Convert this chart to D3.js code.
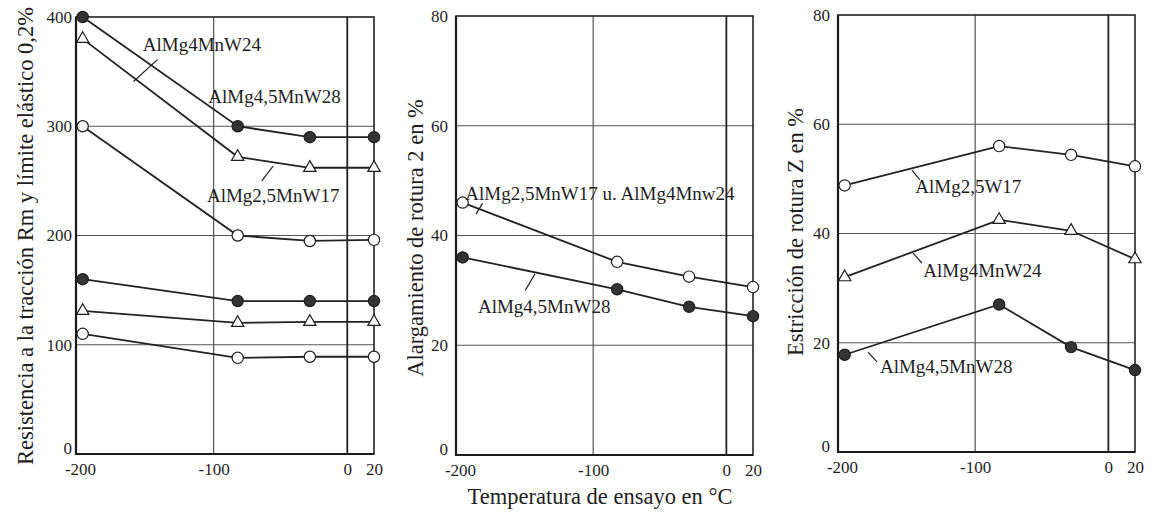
<!DOCTYPE html>
<html>
<head>
<meta charset="utf-8">
<script src="https://cdn.jsdelivr.net/npm/d3@7"></script>
<style>
  body { margin: 0; background: #fff; }
  svg { display: block; }
  text { font-family: "Liberation Serif", "Times New Roman", serif; fill: #1e1e1e; }
  .tick text { font-size: 17px; }
  .label { font-size: 19px; }
  .title { font-size: 22.5px; }
</style>
</head>
<body>
<div id="chart"></div>
<script>
// test temperatures (°C)
var temps = [-198, -82, -28, 20];
var xTicks = [-200, -100, 0, 20];

// panel 1: tensile strength Rm (upper) and 0.2% yield (lower), N/mm2
var rmW28 = [400, 300, 290, 290];
var rmW24 = [380, 272, 262, 262];
var rmW17 = [300, 200, 195, 196];
var rpW28 = [160, 140, 140, 140];
var rpW24 = [131, 120, 121, 121];
var rpW17 = [110, 88, 89, 89];
var yTicks1 = [0, 100, 200, 300, 400];

// panel 2: elongation at break, %
var elongW17W24 = [46, 35.2, 32.5, 30.6];
var elongW28 = [36, 30.2, 27, 25.3];

// panel 3: reduction of area Z, %
var zW17 = [48.8, 56, 54.4, 52.3];
var zW24 = [32, 42.5, 40.5, 35.3];
var zW28 = [17.8, 27, 19.2, 15];
var yTicks23 = [0, 20, 40, 60, 80];

var svg = d3.select("#chart")
  .append("svg")
  .attr("width", 1152)
  .attr("height", 512);

var panels = [
  {
    left: 76, right: 374, top: 17, bottom: 454, yMax: 400, ticks: yTicks1, pad: 4,
    title: "Resistencia a la tracción Rm y límite elástico 0,2%", titleX: 25, titleY: 236,
    series: [
      {values: rmW28, marker: "filled"},
      {values: rmW24, marker: "triangle"},
      {values: rmW17, marker: "open"},
      {values: rpW28, marker: "filled"},
      {values: rpW24, marker: "triangle"},
      {values: rpW17, marker: "open"}
    ],
    labels: [
      {text: "AlMg4MnW24", x: -153, y: 369, leader: [-160, 341, -142, 361]},
      {text: "AlMg4,5MnW28", x: -104, y: 321},
      {text: "AlMg2,5MnW17", x: -105, y: 231, leader: [-64, 250, -55.5, 263.6]}
    ]
  },
  {
    left: 456, right: 753, top: 16, bottom: 455, yMax: 80, ticks: yTicks23, pad: 8,
    title: "Alargamiento de rotura 2 en %", titleX: 415, titleY: 238,
    series: [
      {values: elongW17W24, marker: "open"},
      {values: elongW28, marker: "filled"}
    ],
    labels: [
      {text: "AlMg2,5MnW17 u. AlMg4Mnw24", x: -196, y: 46.5, leader: [-188, 43.9, -183, 45.9]},
      {text: "AlMg4,5MnW28", x: -186.5, y: 25.9, leader: [-151, 30, -143.7, 33]}
    ]
  },
  {
    left: 838, right: 1135, top: 15, bottom: 452, yMax: 80, ticks: yTicks23, pad: 8,
    title: "Estricción de rotura Z en %", titleX: 795, titleY: 232,
    series: [
      {values: zW17, marker: "open"},
      {values: zW24, marker: "triangle"},
      {values: zW28, marker: "filled"}
    ],
    labels: [
      {text: "AlMg2,5W17", x: -145, y: 47.4, leader: [-147.5, 51.6, -141.5, 49.8]},
      {text: "AlMg4MnW24", x: -139, y: 32, leader: [-146.7, 36.4, -140, 34.6]},
      {text: "AlMg4,5MnW28", x: -171.5, y: 14.5, leader: [-180.5, 18.3, -173.7, 16.5]}
    ]
  }
];

panels.forEach(function(p) {
  var x = d3.scaleLinear().domain([-203, 20]).range([p.left, p.right]);
  var y = d3.scaleLinear().domain([0, p.yMax]).range([p.bottom, p.top]);
  var g = svg.append("g");

  // grid lines
  g.selectAll(".hgrid")
    .data(p.ticks.filter(function(t) { return t > 0 && t < p.yMax; }))
    .enter()
    .append("line")
    .attr("x1", p.left).attr("x2", p.right)
    .attr("y1", d => y(d)).attr("y2", d => y(d))
    .attr("stroke", "#555").attr("stroke-width", 1.2);

  g.selectAll(".vgrid")
    .data([-100, 0])
    .enter()
    .append("line")
    .attr("x1", d => x(d)).attr("x2", d => x(d))
    .attr("y1", p.top).attr("y2", p.bottom)
    .attr("stroke", d => d === 0 ? "#222" : "#555")
    .attr("stroke-width", d => d === 0 ? 1.8 : 1.2);

  // frame
  g.append("rect")
    .attr("x", p.left).attr("y", p.top)
    .attr("width", p.right - p.left).attr("height", p.bottom - p.top)
    .attr("fill", "none").attr("stroke", "#222").attr("stroke-width", 1.6);
  g.append("path")
    .attr("d", `M${p.left},${p.top}V${p.bottom}H${p.right}`)
    .attr("fill", "none").attr("stroke", "#1a1a1a").attr("stroke-width", 2.2);

  // axes (plain hyphen for negatives, as in the original)
  var yAxis = d3.axisLeft(y).tickValues(p.ticks).tickSize(0).tickPadding(p.pad)
    .tickFormat(d => String(d));
  g.append("g").attr("transform", `translate(${p.left},0)`).call(yAxis)
    .call(a => a.select(".domain").remove())
    .call(a => a.selectAll(".tick text").filter(d => d === 0).attr("dy", "-0.05em"));

  var xAxis = d3.axisBottom(x).tickValues(xTicks).tickSize(0).tickPadding(9)
    .tickFormat(d => String(d));
  g.append("g").attr("transform", `translate(0,${p.bottom})`).call(xAxis)
    .call(a => a.select(".domain").remove());

  // y title
  g.append("text")
    .attr("class", "title")
    .attr("transform", `translate(${p.titleX},${p.titleY}) rotate(-90)`)
    .attr("text-anchor", "middle")
    .attr("dy", "0.35em")
    .text(p.title);

  // series lines and markers
  var line = d3.line().x(d => x(d[0])).y(d => y(d[1]));
  p.series.forEach(function(s) {
    var pts = temps.map((t, i) => [t, s.values[i]]);
    g.append("path")
      .datum(pts)
      .attr("d", line)
      .attr("fill", "none")
      .attr("stroke", "#222")
      .attr("stroke-width", 1.8);

    var sym = s.marker === "triangle"
      ? d3.symbol().type(d3.symbolTriangle).size(66)
      : d3.symbol().type(d3.symbolCircle).size(100);
    g.selectAll(null)
      .data(pts)
      .enter()
      .append("path")
      .attr("transform", d => `translate(${x(d[0])},${y(d[1])})`)
      .attr("d", sym)
      .attr("fill", s.marker === "filled" ? "#333" : "#fff")
      .attr("stroke", "#1e1e1e")
      .attr("stroke-width", 1.2);
  });

  // labels with leader strokes
  p.labels.forEach(function(l) {
    g.append("text")
      .attr("class", "label")
      .attr("x", x(l.x))
      .attr("y", y(l.y))
      .text(l.text);
    if (l.leader) {
      g.append("line")
        .attr("x1", x(l.leader[0])).attr("y1", y(l.leader[1]))
        .attr("x2", x(l.leader[2])).attr("y2", y(l.leader[3]))
        .attr("stroke", "#222").attr("stroke-width", 1.2);
    }
  });
});

// shared x-axis title
svg.append("text")
  .attr("class", "title")
  .attr("x", 600)
  .attr("y", 504)
  .attr("text-anchor", "middle")
  .text("Temperatura de ensayo en °C");
</script>
</body>
</html>
